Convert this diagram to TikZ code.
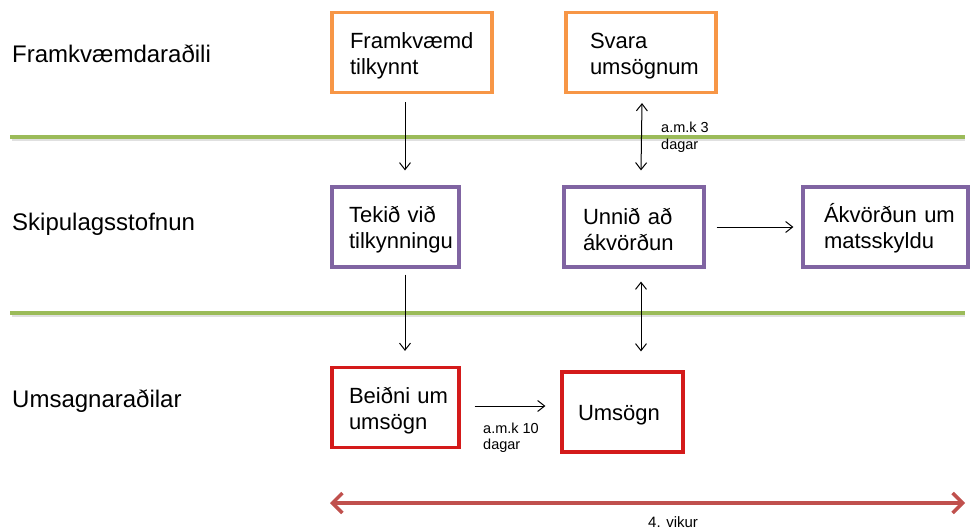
\documentclass[tikz,border=0pt]{standalone}
\usepackage{fontspec}
\setmainfont{Liberation Sans}
\usetikzlibrary{arrows.meta,calc}
\definecolor{boxorange}{HTML}{F79646}
\definecolor{boxpurple}{HTML}{8064A2}
\definecolor{boxred}{HTML}{D41A1A}
\definecolor{lanegreen}{HTML}{9BBB59}
\definecolor{spanred}{HTML}{C0504D}
\newcommand{\nohyph}{\hyphenpenalty10000\relax\exhyphenpenalty10000\relax}
\begin{document}
\begin{tikzpicture}[x=1pt,y=-1pt,
  box/.style={draw,line width=3.2pt,inner ysep=0pt,align=left,minimum height=80pt,text height=22pt,
    font={\fontsize{22}{26}\selectfont\nohyph}},
  lanelabel/.style={anchor=base west,inner sep=0pt,font=\fontsize{24}{28}\selectfont},
  smallnote/.style={anchor=base west,inner sep=0pt,font=\fontsize{14.5}{17}\selectfont},
  conn/.style={line width=1pt,-{Straight Barb[length=7pt,width=11pt]}},
  dconn/.style={line width=1pt,{Straight Barb[length=7pt,width=11pt]}-{Straight Barb[length=7pt,width=11pt]}},
  laneline/.style={line width=4pt,draw=lanegreen},
  laneshadow/.style={line width=2pt,draw=black!12},
  spanarrow/.style={line width=3.5pt,draw=spanred,{Straight Barb[length=10pt,width=20pt]}-{Straight Barb[length=10pt,width=20pt]}}
]
\fill[white] (0,0) rectangle (970,530);
\useasboundingbox (0,0) rectangle (970,530);

% lane separators
\coordinate (g1l) at (10,137);
\coordinate (g1r) at (965,137);
\coordinate (g2l) at (10,313);
\coordinate (g2r) at (965,313);
\draw[laneshadow] ($(g1l)+(2,3)$) -- ($(g1r)+(0,3)$);
\draw[laneshadow] ($(g2l)+(2,3)$) -- ($(g2r)+(0,3)$);
\draw[laneline] (g1l) -- (g1r);
\draw[laneline] (g2l) -- (g2r);

% lane labels
\node[lanelabel] (l1) at (12,62) {Framkvæmdaraðili};
\node[lanelabel] (l2) at (12,230) {Skipulagsstofnun};
\node[lanelabel] (l3) at (12,407) {Umsagnaraðilar};

% boxes
\node[box,draw=boxorange,text width=124pt,inner xsep=18pt] (f) at (412,52.5) {Framkvæmd\\tilkynnt};
\node[box,draw=boxorange,text width=102pt,inner xsep=24pt] (s) at (641,52.5) {Svara\\umsögnum};
\node[box,draw=boxpurple,text width=93pt,inner xsep=17pt] (t) at (395.5,227) {Tekið við\\tilkynningu};
\node[box,draw=boxpurple,text width=102pt,inner xsep=19pt] (u) at (634,227) {Unnið að\\ákvörðun};
\node[box,draw=boxpurple,text width=123pt,inner xsep=21pt] (a) at (885.5,227) {Ákvörðun~um\\matsskyldu};
\node[box,draw=boxred,text width=93pt,inner xsep=17pt] (b) at (395.5,407.5) {Beiðni~um\\umsögn};
\node[box,draw=boxred,text width=89pt,inner xsep=16pt] (m) at (622.5,412) {Umsögn};

% connectors
\draw[conn] ($(f.south)+(-7,8)$) -- ($(t.north)+(9.5,-15)$);
\draw[conn] ($(t.south)+(9.5,6)$) -- ($(b.north)+(9.5,-15)$);
\draw[dconn] ($(s.south)+(1,9)$) -- ($(u.north)+(7,-15)$);
\draw[dconn] ($(u.south)+(7,13)$) -- ($(m.north)+(18.5,-19)$);
\draw[conn] ($(u.east)+(11,0)$) -- ($(a.west)+(-8,0)$);
\draw[conn] ($(b.east)+(14,-1.5)$) -- ($(m.west)+(-15,-6)$);

% notes
\node[smallnote] (n1a) at (661,132) {a.m.k 3};
\node[smallnote] (n1b) at (661,149) {dagar};
\node[smallnote] (n2a) at (483,433) {a.m.k 10};
\node[smallnote] (n2b) at (483,449) {dagar};

% total span
\coordinate (wl) at (330,503);
\coordinate (wr) at (965,503);
\draw[spanarrow] (wl) -- (wr);
\node[anchor=base west,inner sep=0pt,font=\fontsize{15}{18}\selectfont] (w) at (648,527) {4. vikur};
\end{tikzpicture}
\end{document}
